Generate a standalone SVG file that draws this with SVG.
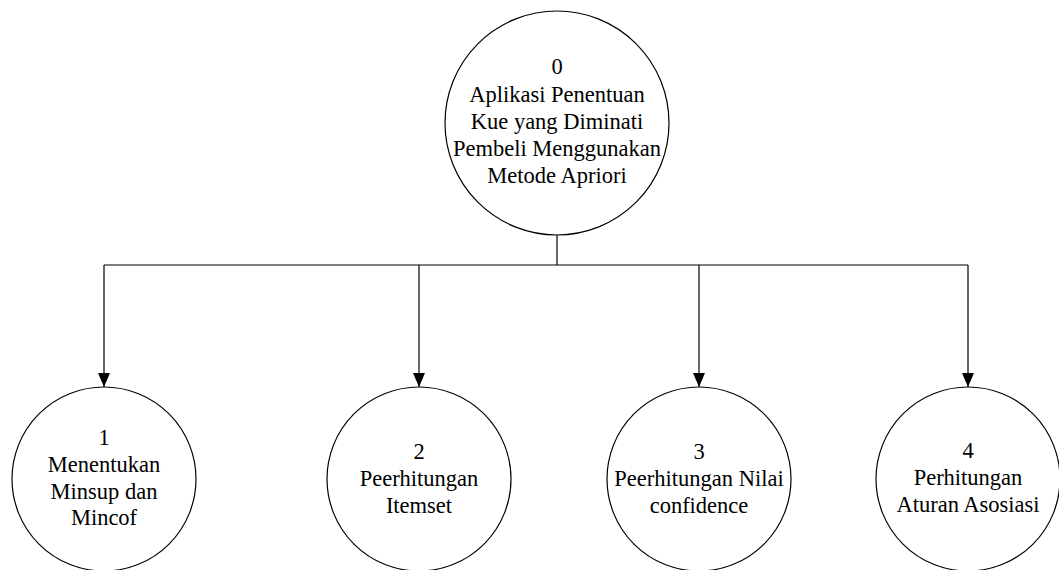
<svg xmlns="http://www.w3.org/2000/svg" width="1059" height="570" viewBox="0 0 1059 570">
<defs>
<style>
.node circle{fill:#fff;stroke:#000;stroke-width:1.2}
.node text{font-family:"Liberation Serif","Times New Roman",serif;font-size:22.5px;fill:#000;text-anchor:middle}
.conn{fill:none;stroke:#000;stroke-width:1.2}
</style>
<marker id="arr" viewBox="0 0 14 12" refX="14" refY="6" markerWidth="14" markerHeight="12" markerUnits="userSpaceOnUse" orient="auto">
<path d="M0,0 L14,6 L0,12 Z" fill="#000"/>
</marker>
</defs>
<g id="connectors">
<path class="conn" d="M557,235 V265"/>
<path class="conn" d="M104,265 H968"/>
<path class="conn" d="M104,265 V387" marker-end="url(#arr)"/>
<path class="conn" d="M419,265 V387" marker-end="url(#arr)"/>
<path class="conn" d="M699,265 V387" marker-end="url(#arr)"/>
<path class="conn" d="M968,265 V387" marker-end="url(#arr)"/>
</g>
<g id="node0" class="node">
<circle cx="557" cy="123" r="112"/>
<text x="557" y="74">0</text>
<text x="557" y="101.5">Aplikasi Penentuan</text>
<text x="557" y="128.5">Kue yang Diminati</text>
<text x="557" y="156">Pembeli Menggunakan</text>
<text x="557" y="183">Metode Apriori</text>
</g>
<g id="node1" class="node">
<circle cx="104" cy="479" r="92"/>
<text x="104" y="445">1</text>
<text x="104" y="472">Menentukan</text>
<text x="104" y="498.5">Minsup dan</text>
<text x="104" y="525">Mincof</text>
</g>
<g id="node2" class="node">
<circle cx="419" cy="479" r="92"/>
<text x="419" y="459">2</text>
<text x="419" y="486">Peerhitungan</text>
<text x="419" y="513">Itemset</text>
</g>
<g id="node3" class="node">
<circle cx="699" cy="479" r="92"/>
<text x="699" y="459">3</text>
<text x="699" y="486">Peerhitungan Nilai</text>
<text x="699" y="513">confidence</text>
</g>
<g id="node4" class="node">
<circle cx="968" cy="479" r="92"/>
<text x="968" y="458">4</text>
<text x="968" y="485">Perhitungan</text>
<text x="968" y="512">Aturan Asosiasi</text>
</g>
</svg>
